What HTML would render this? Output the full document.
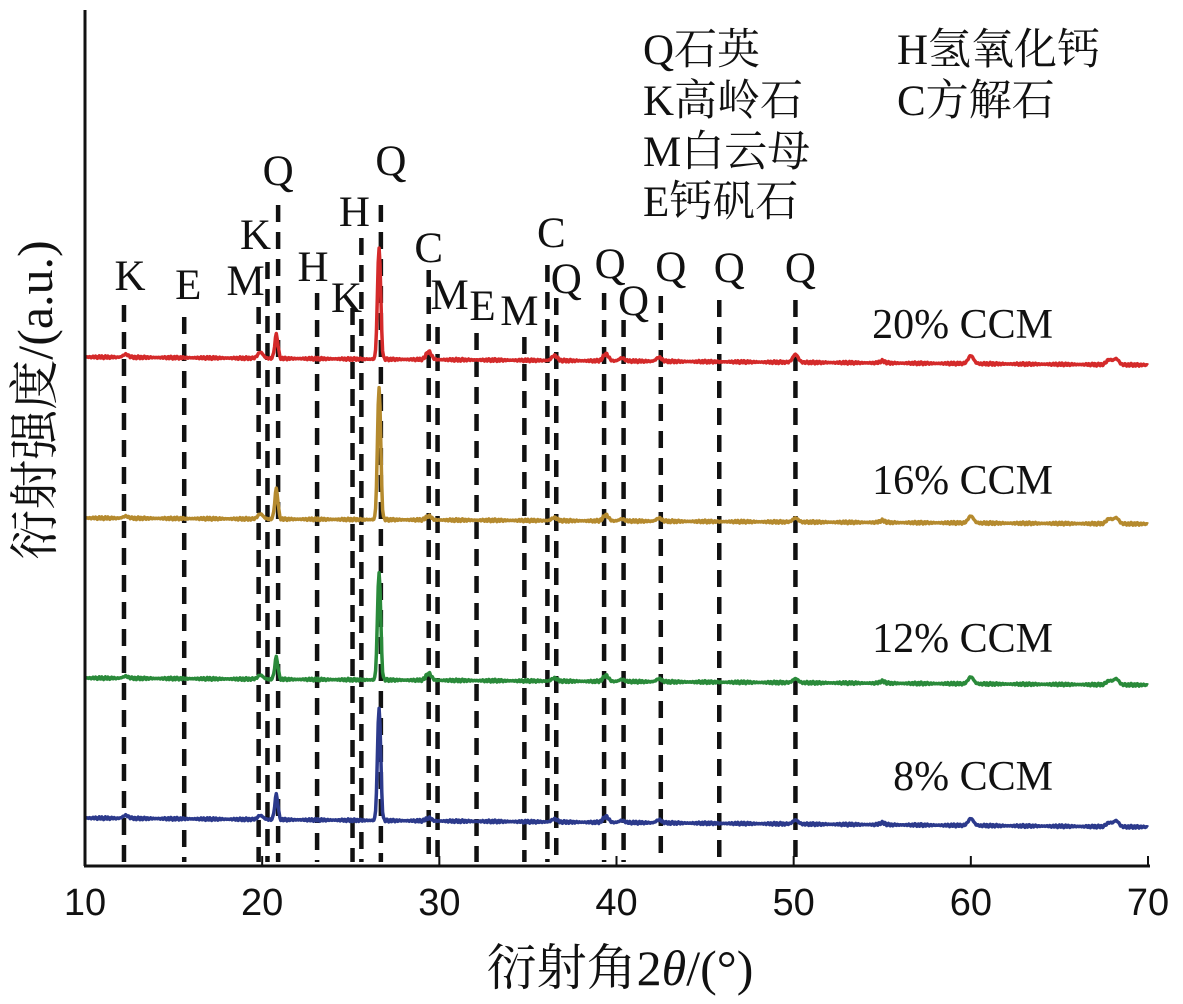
<!DOCTYPE html>
<html><head><meta charset="utf-8"><style>
body{margin:0;background:#fff}
svg text{font-family:"Liberation Serif","Noto Serif CJK SC",serif;fill:#111}
</style></head><body>
<svg id="chart" width="1183" height="999" viewBox="0 0 1183 999" xmlns="http://www.w3.org/2000/svg">
<g id="refs"></g>
<g id="series"></g>
<g id="axes">
<line x1="85" y1="10" x2="85" y2="866" stroke="#111" stroke-width="3"/>
<line x1="84" y1="866" x2="1150" y2="866" stroke="#111" stroke-width="3"/>
</g>
<g id="ticks"></g>
<text x="620" y="985" font-size="50" text-anchor="middle">衍射角2<tspan font-style="italic">θ</tspan>/(°)</text>
<text transform="translate(52,400) rotate(-90)" font-size="50" text-anchor="middle">衍射强度/(a.u.)</text>
<g font-size="43">
<text x="643" y="64">Q石英</text>
<text x="643" y="115">K高岭石</text>
<text x="643" y="166">M白云母</text>
<text x="643" y="216">E钙矾石</text>
<text x="897" y="64">H氢氧化钙</text>
<text x="897" y="115">C方解石</text>
</g>
</svg>
<script>
const xMin=10, xMax=70;
const xTicks=[10,20,30,40,50,60,70];
const refPos=[12.2,15.6,19.8,20.3,20.9,23.1,25.1,25.6,26.7,29.4,29.9,32.1,34.8,36.1,36.6,39.3,40.4,42.5,45.8,50.1];
const refLabels=["K","E","M","K","Q","H","K","H","Q","C","M","E","M","C","Q","Q","Q","Q","Q","Q"];
const refTop=[305,317,307,262,205,293,308,238,205,270,327,333,337,265,298,293,320,296,300,300];
const labelOffset=[[6,-15],[4,-18],[-13,-12],[-12,-13],[0,-20],[-4,-12],[-6,4],[-7,-12],[10,-30],[0,-8],[12,-18],[6,-13],[-5,-12],[4,-18],[10,-5],[6,-15],[10,-5],[10,-15],[10,-18],[5,-18]];
const seriesNames=["20% CCM","16% CCM","12% CCM","8% CCM"];
const seriesColors=["#d42a2a","#b58a2e","#2a8a3a","#2c3a8c"];
const baseLeft=[357,518,678,818];
const baseRight=[365,524,685,827];
const peakPos=[12.3,19.9,20.8,26.6,29.4,36.5,39.4,40.3,42.4,50.1,55,60.0,67.8,68.2];
const peakH20=[3,6,24,112,8,5,7,3,4,8,2,8,5,6];
const peakH16=[2,5,30,133,4,3,6,2,3,4,2,7,5,6];
const peakH12=[2,4,22,108,7,3,6,2,3,4,2,7,4,6];
const peakH8=[3,4,25,113,3,3,6,2,3,4,2,7,4,6];
const peakSets=[peakH20,peakH16,peakH12,peakH8];
const labelY=[338,494,652,790];

const X=v=>85+(v-xMin)/(xMax-xMin)*(1148-85);
const NS="http://www.w3.org/2000/svg";
function mk(t,a,p){const e=document.createElementNS(NS,t);for(const k in a)e.setAttribute(k,a[k]);p.appendChild(e);return e;}
const refs=document.getElementById('refs'), ser=document.getElementById('series'), ticks=document.getElementById('ticks');

refPos.forEach((v,i)=>{
  const x=X(v);
  const l=mk('line',{x1:x,y1:refTop[i],x2:x,y2:862,stroke:'#111','stroke-width':4.5,'stroke-dasharray':'17 10'},refs);
  
  
  const t=mk('text',{x:x+labelOffset[i][0],y:refTop[i]+labelOffset[i][1],'font-size':43,'text-anchor':'middle'},refs);
  t.textContent=refLabels[i];
  
  
});

seriesNames.forEach((name,s)=>{
  const h=peakSets[s];
  let pts=[];
  for(let v=xMin;v<=xMax+1e-9;v+=0.05){
    let y=baseLeft[s]+(baseRight[s]-baseLeft[s])*(v-xMin)/(xMax-xMin);
    peakPos.forEach((p,j)=>{const w=(j==3||j==2)?0.09:0.15;y-=h[j]*Math.exp(-((v-p)*(v-p))/(2*w*w));});
    y+=Math.sin(v*37.1)*0.8+Math.sin(v*91.7)*0.6;
    pts.push(X(v).toFixed(1)+','+y.toFixed(1));
  }
  const pl=mk('polyline',{points:pts.join(' '),fill:'none',stroke:seriesColors[s],'stroke-width':3.5,'stroke-linejoin':'round'},ser);
  
  
  const t=mk('text',{x:1053,y:labelY[s],'font-size':42,'text-anchor':'end'},ser);
  t.textContent=name;
  
  
});

xTicks.forEach(v=>{
  const x=X(v);
  const l=mk('line',{x1:x,y1:866,x2:x,y2:856,stroke:'#111','stroke-width':2},ticks);
  
  
  const t=mk('text',{x:x,y:915,'text-anchor':'middle',style:'font-family:"Liberation Sans",sans-serif;font-size:38px'},ticks);
  t.textContent=v;
  
  
});
</script>
</body></html>
